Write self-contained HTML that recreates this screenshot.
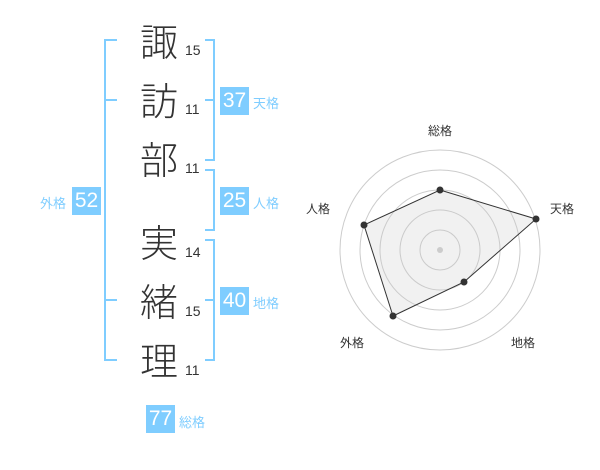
<!DOCTYPE html>
<html><head><meta charset="utf-8"><style>
body{margin:0;width:600px;height:470px;background:#fff;position:relative;overflow:hidden;font-family:"Liberation Sans","Noto Sans CJK JP",sans-serif}
.k{position:absolute;left:140px;font-size:38px;line-height:40px;color:#333;font-family:"Noto Sans CJK JP",sans-serif;font-weight:300}
.n{position:absolute;left:185px;font-size:14px;color:#333}
.b{position:absolute;background:#7fcdff;color:#fff;font-size:21px;width:29px;height:28px;line-height:28px;text-align:center}
.l{position:absolute;color:#7fcdff;font-size:13px;font-family:"Noto Sans CJK JP",sans-serif}
</style></head><body>
<svg width="600" height="470" style="position:absolute;left:0;top:0">
<g stroke="#7fcdff" stroke-width="2" fill="none">
<path d="M117 40H105V360H117M105 100H117M105 300H117"/>
<path d="M205 40H214V160H205M205 100H214"/>
<path d="M205 170H214V230H205"/>
<path d="M205 240H214V360H205M205 300H214"/>
</g>
<g fill="none" stroke="#ccc" stroke-width="1">
<circle cx="440" cy="250" r="20"/><circle cx="440" cy="250" r="40"/><circle cx="440" cy="250" r="60"/><circle cx="440" cy="250" r="80"/><circle cx="440" cy="250" r="100"/>
</g>
<polygon points="440,190 536,219 464,282 393,316 364,225" fill="rgba(200,200,200,0.25)" stroke="#333" stroke-width="1"/>
<circle cx="440" cy="250" r="3" fill="#ccc"/>
<g fill="#333"><circle cx="440" cy="190" r="3.5"/><circle cx="536" cy="219" r="3.5"/><circle cx="464" cy="282" r="3.5"/><circle cx="393" cy="316" r="3.5"/><circle cx="364" cy="225" r="3.5"/></g>
<g font-size="12" fill="#333" font-family="Noto Sans CJK JP,sans-serif" text-anchor="middle">
<text x="440" y="135">総格</text><text x="562" y="213">天格</text><text x="523" y="347">地格</text><text x="352" y="347">外格</text><text x="318" y="213">人格</text>
</g>
</svg>
<div class="k" style="top:20px">諏</div><div class="n" style="top:42px">15</div>
<div class="k" style="top:79px">訪</div><div class="n" style="top:101px">11</div>
<div class="k" style="top:138px">部</div><div class="n" style="top:160px">11</div>
<div class="k" style="top:221px">実</div><div class="n" style="top:244px">14</div>
<div class="k" style="top:280px">緒</div><div class="n" style="top:303px">15</div>
<div class="k" style="top:339px">理</div><div class="n" style="top:362px">11</div>
<div class="b" style="left:220px;top:87px">37</div><div class="l" style="left:253px;top:93px">天格</div>
<div class="b" style="left:220px;top:187px">25</div><div class="l" style="left:253px;top:193px">人格</div>
<div class="b" style="left:220px;top:287px">40</div><div class="l" style="left:253px;top:293px">地格</div>
<div class="b" style="left:72px;top:187px">52</div><div class="l" style="left:40px;top:193px">外格</div>
<div class="b" style="left:146px;top:405px">77</div><div class="l" style="left:179px;top:412px">総格</div>
</body></html>
